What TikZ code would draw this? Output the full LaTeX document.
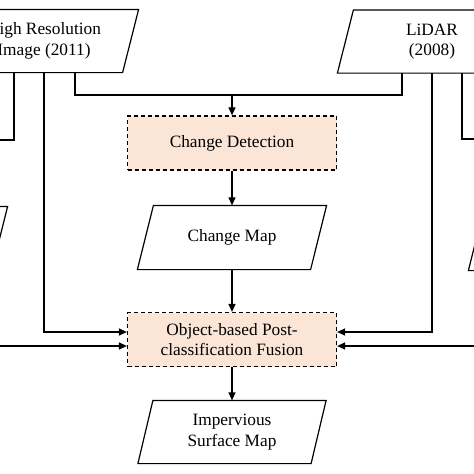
\documentclass[tikz,border=0pt]{standalone}
\usepackage{fontspec}
\setmainfont{Liberation Serif}
\usetikzlibrary{arrows.meta,calc}
\definecolor{peach}{HTML}{FBE5D6}
\newcommand{\drawpara}[2][8]{\draw ($(#2.north west)+(#1,0)$) -- ($(#2.north east)+(#1,0)$) -- ($(#2.south east)-(#1,0)$) -- ($(#2.south west)-(#1,0)$) -- cycle;}
\begin{document}
\begin{tikzpicture}[x=1pt,y=-1pt,
  line width=1.2pt,
  txt/.style={font=\fontsize{17.3}{20.5}\selectfont, align=center, inner sep=0pt},
  dbox/.style={txt, draw, dash pattern=on 4pt off 3pt, fill=peach, minimum width=209pt, minimum height=54pt},
  para/.style={txt, minimum width=172pt, minimum height=62pt},
  arr/.style={-{Triangle[length=8pt,width=7pt]}}]
\useasboundingbox (0,0) rectangle (474,474);
\clip (0,0) rectangle (474,474);
\fill[white] (0,0) rectangle (474,474);

\node[para] (hr) at (44,41) {High Resolution\\Image (2011)};
\node[para] (li) at (432,41.5) {LiDAR\\(2008)};
\node[dbox] (cd) at (232,143) {Change Detection};
\node[para, minimum height=63pt] (cm) at (232,237.5) {Change Map};
\node[dbox] (fu) at (232,339.5) {Object-based Post-\\classification Fusion};
\node[para] (im) at (232,432) {Impervious\\Surface Map};
\node[para, minimum height=63pt] (lp) at (-87,238.5) {};
\node[para, minimum height=63pt] (rp) at (563,238.5) {};

\drawpara{hr}
\drawpara{li}
\drawpara{cm}
\drawpara[7.5]{im}
\drawpara{lp}
\drawpara{rp}

\coordinate (j) at (232,95);
\coordinate (lo1) at (0,140);
\coordinate (lo2) at (0,346);
\coordinate (ro1) at (474,139);
\coordinate (ro2) at (474,346);

\draw ([xshift=31pt]hr.south) |- (j);
\draw ([xshift=-30pt]li.south) |- (j);
\draw[arr] (j) -- (cd.north);
\draw[arr] (cd.south) -- (cm.north);
\draw[arr] (cm.south) -- (fu.north);
\draw[arr] (fu.south) -- (im.north);

\draw[arr] (hr.south) |- ([yshift=7.5pt]fu.west);
\draw ([xshift=-30pt]hr.south) |- (lo1);
\draw[arr] (lo2) -- (lo2 -| fu.west);
\draw[arr] (li.south) |- ([yshift=7.5pt]fu.east);
\draw ([xshift=30pt]li.south) |- (ro1);
\draw[arr] (ro2) -- (ro2 -| fu.east);
\end{tikzpicture}
\end{document}
